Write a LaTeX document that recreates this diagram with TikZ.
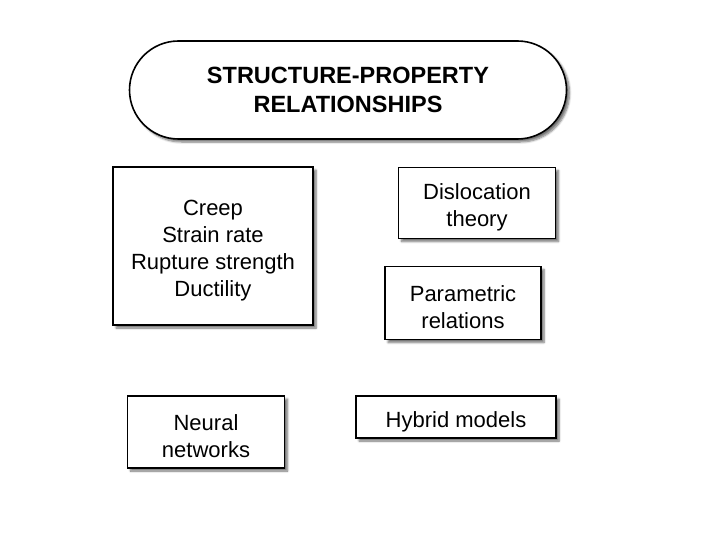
\documentclass[tikz,border=0pt]{standalone}
\usepackage{fontspec}
\setmainfont{Liberation Sans}
\usetikzlibrary{shapes.misc,shadows.blur}

\begin{document}
\begin{tikzpicture}[x=1pt, y=-1pt, font=\fontsize{22}{27}\selectfont,
  box/.style={draw, line width=1.6pt, fill=white, align=center, inner sep=0pt,
    blur shadow={shadow xshift=3pt, shadow yshift=-3pt, shadow blur steps=6, shadow opacity=55}}]
\useasboundingbox (0,0) rectangle (720,540);
\node[box, rounded rectangle, inner sep=3pt, minimum width=443pt, minimum height=98pt,
  font=\bfseries\fontsize{23.5}{29}\selectfont] (title) at (348,90) {STRUCTURE-PROPERTY\\RELATIONSHIPS};
\foreach \nm/\X/\Y/\W/\H/\txt in {creep/213/246/200/158/{Creep\\Strain rate\\Rupture strength\\Ductility},
  disloc/477/203/157/71/{Dislocation\\theory}, param/463/303/156/73/{Parametric\\relations},
  neural/206/432/157/72/{Neural\\networks}, hybrid/456/417/200/42/{Hybrid models}}
{\node[box, minimum width=\W pt, minimum height=\H pt] (\nm) at (\X,\Y) {\rule{0pt}{25pt}\txt};}
\end{tikzpicture}
\end{document}
